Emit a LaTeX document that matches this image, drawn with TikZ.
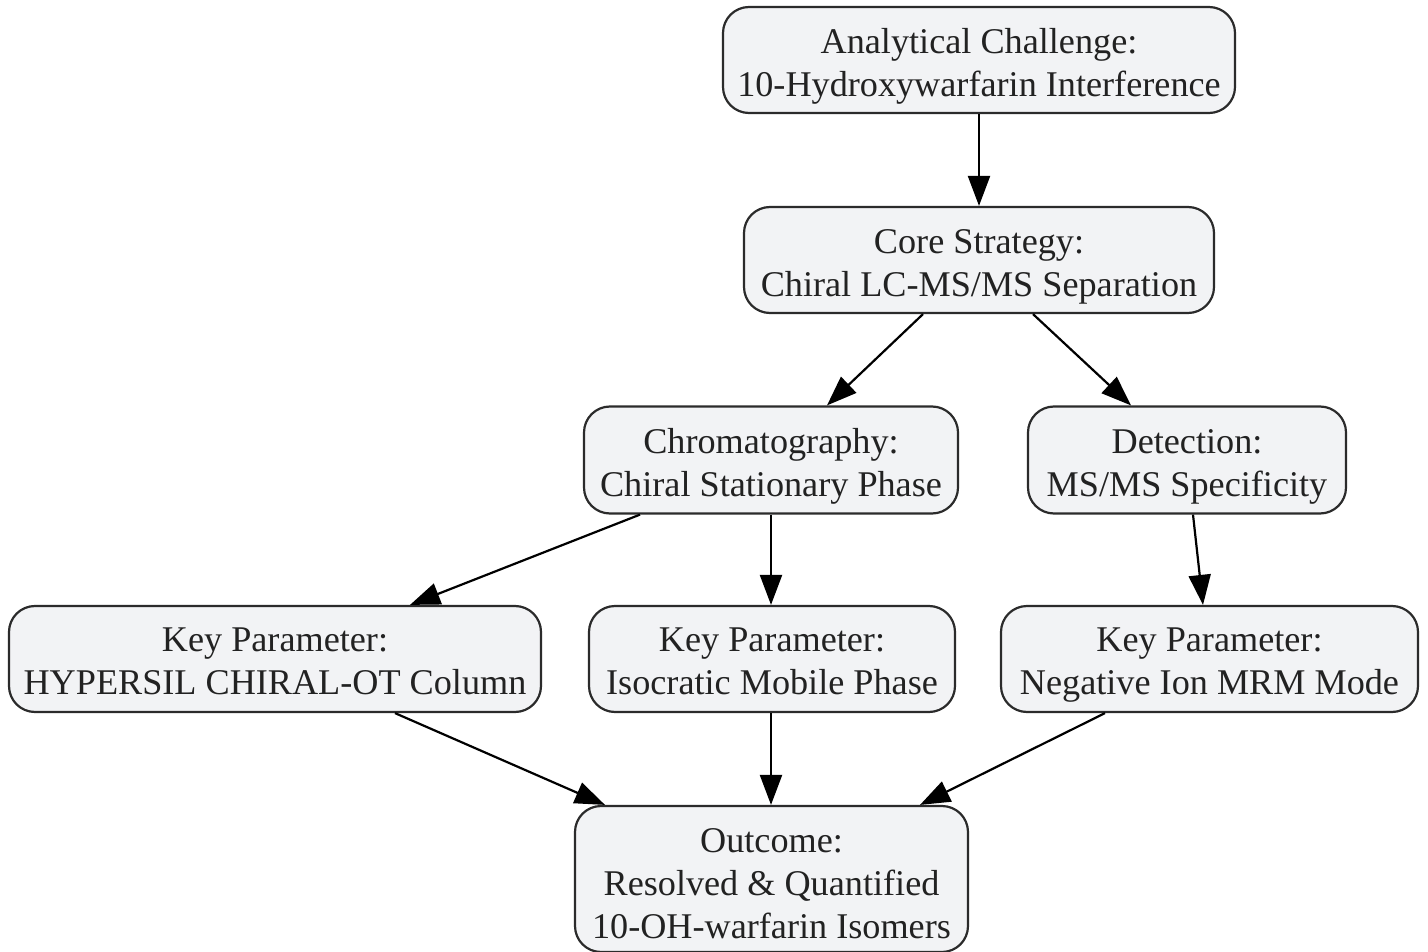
\documentclass[tikz,border=0pt]{standalone}
\usepackage{fontspec}
\setmainfont{Liberation Serif}
\usetikzlibrary{arrows.meta}
\definecolor{boxfill}{HTML}{F2F3F5}
\definecolor{boxdraw}{HTML}{2B2B2B}
\definecolor{txt}{HTML}{222222}
\tikzset{
  box/.style={draw=boxdraw, fill=boxfill, line width=2.2pt, rounded corners=26pt, inner sep=0pt},
  lbl/.style={align=center, text=txt, font=\fontsize{36.2}{43}\selectfont, inner sep=0pt,
    yshift=-9pt, execute at begin node=\strut, execute at end node=\strut},
  conn/.style={line width=2.2pt, draw=black, -{Triangle[length=30pt,width=22pt]}}
}
\begin{document}
\begin{tikzpicture}[x=1pt,y=-1pt]
\useasboundingbox (0,0) rectangle (1428,952);
\node[box, minimum width=512pt, minimum height=106pt] (a) at (979,60) {};
\node[lbl] (at) at (a.center) {Analytical Challenge:\\10-Hydroxywarfarin Interference};
\node[box, minimum width=470pt, minimum height=106pt] (b) at (979,260) {};
\node[lbl] (bt) at (b.center) {Core Strategy:\\Chiral LC-MS/MS Separation};
\node[box, minimum width=374pt, minimum height=107pt] (c) at (771,460) {};
\node[lbl] (ct) at (c.center) {Chromatography:\\Chiral Stationary Phase};
\node[box, minimum width=318pt, minimum height=107pt] (d) at (1187,460) {};
\node[lbl] (dt) at (d.center) {Detection:\\MS/MS Specificity};
\node[box, minimum width=532pt, minimum height=106pt] (e) at (275,659) {};
\node[lbl] (et) at (e.center) {Key Parameter:\\HYPERSIL CHIRAL-OT Column};
\node[box, minimum width=366pt, minimum height=106pt] (f) at (772,659) {};
\node[lbl] (ft) at (f.center) {Key Parameter:\\Isocratic Mobile Phase};
\node[box, minimum width=417pt, minimum height=106pt] (g) at (1209.5,659) {};
\node[lbl] (gt) at (g.center) {Key Parameter:\\Negative Ion MRM Mode};
\node[box, minimum width=393pt, minimum height=146pt] (h) at (771.5,879) {};
\node[lbl, yshift=-2pt] (ht) at (h.center) {Outcome:\\Resolved \& Quantified\\10-OH-warfarin Isomers};
\draw[conn] (a.south) -- (b.north);
\draw[conn] ([xshift=-56pt]b.south) -- ([xshift=56pt]c.north);
\draw[conn] ([xshift=54pt]b.south) -- ([xshift=-56pt]d.north);
\draw[conn] ([xshift=-131pt]c.south) -- ([xshift=135pt]e.north);
\draw[conn] (c.south) -- ([xshift=-1pt]f.north);
\draw[conn] ([xshift=6pt]d.south) -- ([xshift=-6.5pt]g.north);
\draw[conn] ([xshift=120pt]e.south) -- ([xshift=-166.5pt]h.north);
\draw[conn] ([xshift=-1pt]f.south) -- ([xshift=-0.5pt]h.north);
\draw[conn] ([xshift=-104.5pt]g.south) -- ([xshift=148.5pt]h.north);
\end{tikzpicture}
\end{document}
